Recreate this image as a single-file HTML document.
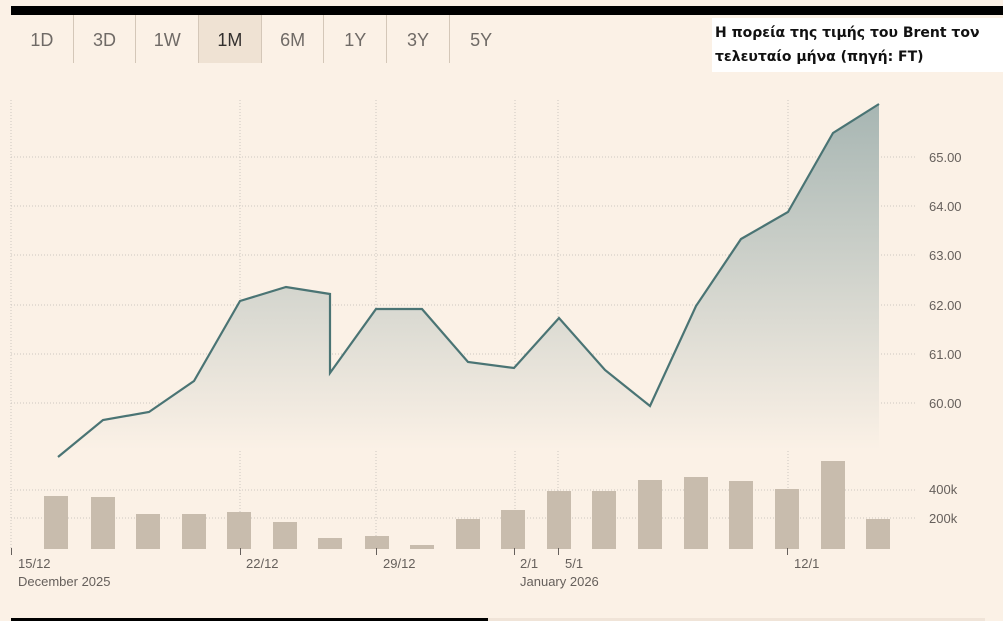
<!DOCTYPE html>
<html><head><meta charset="utf-8"><style>
body{margin:0;background:#fbf1e6;width:1003px;height:621px;overflow:hidden;position:relative;font-family:"Liberation Sans",sans-serif}
.bar{position:absolute;left:11px;top:6px;width:992px;height:9px;background:#000}
.tabs{position:absolute;top:15px;left:11px;height:48px;display:flex}
.tab{width:62.7px;height:48px;border-right:1px solid #d4c7b8;box-sizing:border-box;text-align:center;line-height:50px;font-size:18px;color:#6f6a66}
.tab.sel{background:#efe2d3;color:#33302e}
.title{position:absolute;left:712px;top:18px;width:291px;height:54px;background:#fff;font-family:"DejaVu Sans",sans-serif;font-weight:bold;font-size:14px;line-height:24px;padding:3px 0 0 3px;box-sizing:border-box;color:#111}
</style></head><body>
<div class="bar"></div>
<div class="tabs"><div class="tab">1D</div><div class="tab">3D</div><div class="tab">1W</div><div class="tab sel">1M</div><div class="tab">6M</div><div class="tab">1Y</div><div class="tab">3Y</div><div class="tab" style="border:none">5Y</div></div>
<div class="title">Η πορεία της τιμής του Brent τον τελευταίο μήνα (πηγή: FT)</div>
<svg width="1003" height="621" style="position:absolute;left:0;top:0">
<defs><linearGradient id="g" x1="0" y1="100" x2="0" y2="450" gradientUnits="userSpaceOnUse"><stop offset="0" stop-color="#a6b5b2"/><stop offset="1" stop-color="#fbf1e6"/></linearGradient></defs>
<g stroke="#ccc6c0" stroke-dasharray="1,2" stroke-width="1">
<line x1="11" y1="100" x2="11" y2="549"/><line x1="240" y1="100" x2="240" y2="549"/><line x1="376" y1="100" x2="376" y2="549"/><line x1="515" y1="100" x2="515" y2="549"/><line x1="558" y1="100" x2="558" y2="549"/><line x1="788" y1="100" x2="788" y2="549"/>
<line x1="11" y1="157" x2="915" y2="157"/><line x1="11" y1="206" x2="915" y2="206"/><line x1="11" y1="255" x2="915" y2="255"/><line x1="11" y1="305" x2="915" y2="305"/><line x1="11" y1="354" x2="915" y2="354"/><line x1="11" y1="403" x2="915" y2="403"/><line x1="11" y1="490" x2="915" y2="490"/><line x1="11" y1="518" x2="915" y2="518"/>
</g>
<path d="M58,457 L103,420 149,412 194,381 240,301 286,287 330,294 330,373 376,309 422,309 468,362 514,368 559,318 605,370 650,406 696,306 741,239 788,212 833,133 879,104 L879,450 L58,450Z" fill="url(#g)"/>
<path d="M58,457 L103,420 149,412 194,381 240,301 286,287 330,294 330,373 376,309 422,309 468,362 514,368 559,318 605,370 650,406 696,306 741,239 788,212 833,133 879,104" fill="none" stroke="#4a7474" stroke-width="2.2"/>
<g fill="#c8bcad">
<rect x="44" y="496" width="24" height="53"/><rect x="91" y="497" width="24" height="52"/><rect x="136" y="514" width="24" height="35"/><rect x="182" y="514" width="24" height="35"/><rect x="227" y="512" width="24" height="37"/><rect x="273" y="522" width="24" height="27"/><rect x="318" y="538" width="24" height="11"/><rect x="365" y="536" width="24" height="13"/><rect x="410" y="545" width="24" height="4"/><rect x="456" y="519" width="24" height="30"/><rect x="501" y="510" width="24" height="39"/><rect x="547" y="491" width="24" height="58"/><rect x="592" y="491" width="24" height="58"/><rect x="638" y="480" width="24" height="69"/><rect x="684" y="477" width="24" height="72"/><rect x="729" y="481" width="24" height="68"/><rect x="775" y="489" width="24" height="60"/><rect x="821" y="461" width="24" height="88"/><rect x="866" y="519" width="24" height="30"/>
</g>
<g stroke="#66605c"><line x1="11.5" y1="548" x2="11.5" y2="555"/><line x1="240.5" y1="548" x2="240.5" y2="555"/><line x1="376.5" y1="548" x2="376.5" y2="555"/><line x1="514.5" y1="548" x2="514.5" y2="555"/><line x1="558.5" y1="548" x2="558.5" y2="555"/><line x1="787.5" y1="548" x2="787.5" y2="555"/></g>
<g font-size="13" fill="#66605c">
<text x="929" y="162">65.00</text><text x="929" y="211">64.00</text><text x="929" y="260">63.00</text><text x="929" y="310">62.00</text><text x="929" y="359">61.00</text><text x="929" y="408">60.00</text>
<text x="929" y="494">400k</text><text x="929" y="523">200k</text>
<text x="18" y="568">15/12</text><text x="246" y="568">22/12</text><text x="383" y="568">29/12</text><text x="520" y="568">2/1</text><text x="565" y="568">5/1</text><text x="794" y="568">12/1</text>
<text x="18" y="586">December 2025</text><text x="520" y="586">January 2026</text>
</g>
<rect x="11" y="618" width="477" height="3" fill="#000"/><rect x="488" y="618" width="497" height="3" fill="#f0e4d8"/>
</svg>
</body></html>
